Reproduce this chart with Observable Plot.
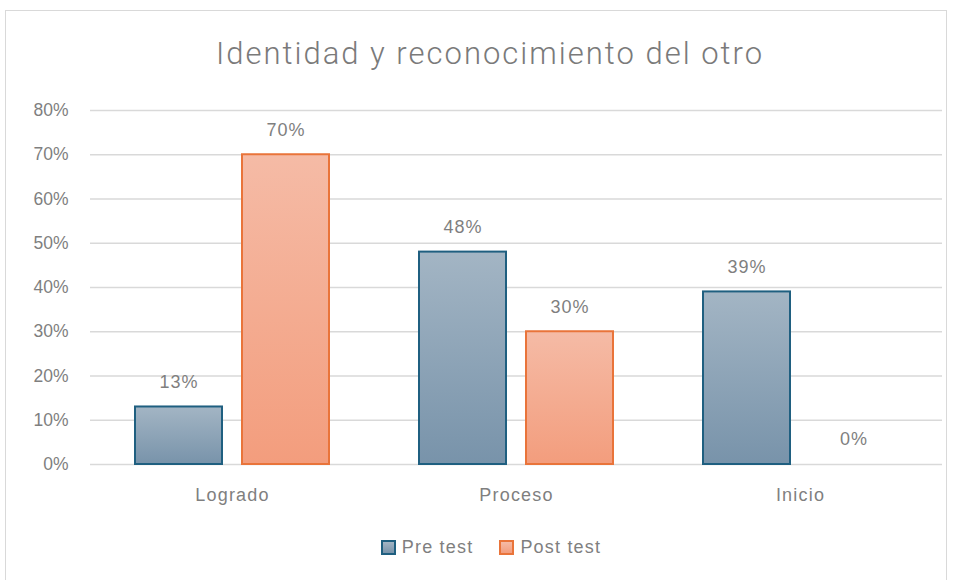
<!DOCTYPE html>
<html><head><meta charset="utf-8">
<script src="https://cdn.jsdelivr.net/npm/d3@7"></script>
<script src="https://cdn.jsdelivr.net/npm/@observablehq/plot@0.6"></script>
<style>
body{margin:0;background:#fff;width:960px;height:580px;overflow:hidden;position:relative;font-family:"Liberation Sans",Arial,sans-serif;}
#frame{position:absolute;left:5px;top:10px;width:942px;height:600px;border:1.5px solid #d9d9d9;box-sizing:border-box;}
#title{position:absolute;left:0;width:980px;top:35px;text-align:center;font-family:Roboto,sans-serif;font-size:31px;letter-spacing:2px;color:#7a7a7a;font-weight:300;}
#chart{position:absolute;left:0;top:80px;}
#legend{position:absolute;top:537px;left:0;width:982px;display:flex;justify-content:center;gap:0;font-size:18px;letter-spacing:1.2px;color:#7f7f7f;}
.item{display:flex;align-items:center;margin:0 13px;}
.sw{width:11px;height:11px;border:2px solid;margin-right:6px;}
</style></head>
<body>
<div id="frame"></div>
<div id="title">Identidad y reconocimiento del otro</div>
<div id="chart"></div>
<div id="legend"></div>
<script>
const categories = ["Logrado", "Proceso", "Inicio"];
const series = ["Pre test", "Post test"];
const preTest = [13, 48, 39];
const postTest = [70, 30, 0];
const yTicks = [0, 10, 20, 30, 40, 50, 60, 70, 80];

const seriesStroke = {"Pre test": "#1f5f80", "Post test": "#e9743a"};
const seriesFill = {"Pre test": "url(#gPre)", "Post test": "url(#gPost)"};

const table = [];
categories.forEach((c, i) => {
  table.push({cat: c, serie: "Pre test", value: preTest[i]});
  table.push({cat: c, serie: "Post test", value: postTest[i]});
});

const chart = Plot.plot({
  width: 960, height: 440,
  marginLeft: 90, marginRight: 18, marginTop: 30, marginBottom: 56,
  style: {fontSize: "17.5px", color: "#7f7f7f", fontFamily: "'Liberation Sans', Arial, sans-serif", background: "transparent"},
  fx: {domain: categories, paddingInner: 0, paddingOuter: 0, label: null, tickSize: 0, tickPadding: 24},
  x: {domain: series, paddingInner: 0.187, paddingOuter: 0.42, axis: null},
  y: {domain: [0, 80], ticks: yTicks, tickFormat: d => d + "%", tickSize: 0, tickPadding: 22, label: null},
  marks: [
    Plot.gridY(yTicks, {stroke: "#d9d9d9", strokeOpacity: 1, strokeWidth: 1.6}),
    ...series.map(s => Plot.barY(table.filter(d => d.serie === s), {
      fx: "cat", x: "serie", y: "value",
      fill: seriesFill[s], stroke: seriesStroke[s], strokeWidth: 2
    })),
    Plot.text(table, {fx: "cat", x: "serie", y: "value", text: d => d.value + "%", dy: -25, fill: "#7f7f7f", fontSize: 18})
  ]
});
chart.insertAdjacentHTML("afterbegin", `<defs>
<linearGradient id="gPre" x1="0" y1="0" x2="0" y2="1"><stop offset="0" stop-color="#a3b5c4"/><stop offset="1" stop-color="#7893aa"/></linearGradient>
<linearGradient id="gPost" x1="0" y1="0" x2="0" y2="1"><stop offset="0" stop-color="#f5bba6"/><stop offset="1" stop-color="#f39d7d"/></linearGradient>
</defs>`);
chart.querySelectorAll("text").forEach(t => t.style.letterSpacing = "1px");
chart.querySelectorAll("[aria-label='fx-axis tick label'] text, [aria-label='fx-axis tick label']").forEach(t => { t.style.fontSize = "18px"; t.style.letterSpacing = "1.2px"; });
chart.querySelectorAll("[aria-label='y-axis tick label'] text, [aria-label='y-axis tick label']").forEach(t => { t.style.letterSpacing = "0px"; });
document.getElementById("chart").appendChild(chart);

const legend = document.getElementById("legend");
series.forEach(s => {
  const it = document.createElement("div");
  it.className = "item";
  const sw = document.createElement("div");
  sw.className = "sw";
  sw.style.borderColor = seriesStroke[s];
  sw.style.background = s === "Pre test" ? "linear-gradient(#a3b5c4,#7893aa)" : "linear-gradient(#f5bba6,#f39d7d)";
  it.appendChild(sw);
  it.appendChild(document.createTextNode(s));
  legend.appendChild(it);
});
</script>
</body></html>
